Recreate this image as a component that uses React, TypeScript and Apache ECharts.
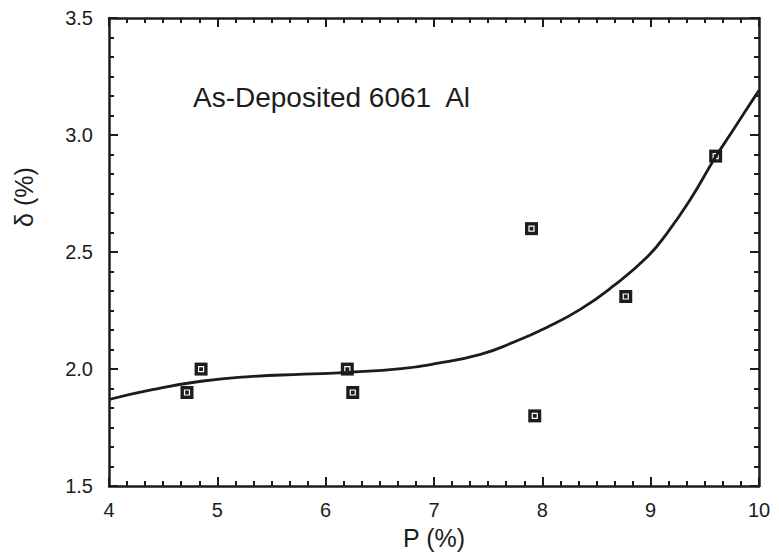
import React, { useEffect, useRef } from "react";
import * as echarts from "echarts";

const pointsX = [4.72, 4.85, 6.2, 6.25, 7.9, 7.93, 8.77, 9.6];
const pointsY = [1.9, 2.0, 2.0, 1.9, 2.6, 1.8, 2.31, 2.91];

const curveX = [4.0, 4.4, 4.85, 5.3, 5.8, 6.2, 6.7, 7.0, 7.43, 7.73, 8.04, 8.35, 8.65, 8.97, 9.15, 9.36, 9.6, 9.76, 9.96, 10.0];
const curveY = [1.87, 1.912, 1.948, 1.968, 1.978, 1.986, 2.002, 2.022, 2.063, 2.114, 2.178, 2.255, 2.353, 2.48, 2.58, 2.72, 2.907, 3.02, 3.163, 3.19];

const xTicks = { min: 4, max: 10, interval: 1 };
const yTicks = { min: 1.5, max: 3.5, interval: 0.5 };

const annotation = "As-Deposited 6061  Al";
const xName = "P (%)";
const yName = "δ (%)";

const INK = "#1c1c1c";
const FONT = "'Liberation Sans', Arial, Helvetica, sans-serif";

function frame() {
  return {
    axisLine: { show: true, onZero: false, lineStyle: { color: INK, width: 2.5 } },
    axisTick: { show: true, inside: true, length: 9, lineStyle: { color: INK, width: 2 } },
    minorTick: { show: true, splitNumber: 6, length: 5, lineStyle: { color: INK, width: 2 } },
    splitLine: { show: false },
    minorSplitLine: { show: false },
  };
}

export default function App() {
  const ref = useRef<HTMLDivElement>(null);

  useEffect(() => {
    if (!ref.current) return;
    const chart = echarts.init(ref.current, null, { renderer: "svg" });

    const pts = pointsX.map((x, i) => [x, pointsY[i]]);
    const curve = curveX.map((x, i) => [x, curveY[i]]);

    chart.setOption({
      animation: false,
      grid: { left: 109, right: 20, top: 18, bottom: 68 },
      xAxis: [
        {
          type: "value",
          position: "bottom",
          ...xTicks,
          ...frame(),
          axisLabel: { color: INK, fontSize: 20, margin: 14, fontFamily: FONT },
          name: xName,
          nameLocation: "middle",
          nameGap: 31,
          nameTextStyle: { color: INK, fontSize: 25, fontFamily: FONT },
        },
        {
          type: "value",
          position: "top",
          ...xTicks,
          ...frame(),
          axisLabel: { show: false },
        },
      ],
      yAxis: [
        {
          type: "value",
          position: "left",
          ...yTicks,
          ...frame(),
          axisLabel: {
            color: INK,
            fontSize: 20,
            margin: 16,
            fontFamily: FONT,
            formatter: (v: number) => v.toFixed(1),
          },
        },
        {
          type: "value",
          position: "right",
          ...yTicks,
          ...frame(),
          axisLabel: { show: false },
        },
      ],
      graphic: [
        {
          type: "text",
          left: 193,
          top: 83,
          z: 10,
          style: {
            text: annotation,
            fontSize: 28,
            fontFamily: FONT,
            fill: INK,
          },
        },
        {
          type: "text",
          x: 24,
          y: 197,
          z: 10,
          rotation: Math.PI / 2,
          style: {
            text: yName,
            fontSize: 25,
            fontFamily: FONT,
            fill: INK,
            align: "center",
            verticalAlign: "middle",
          },
        },
      ],
      series: [
        {
          type: "line",
          data: curve,
          smooth: true,
          showSymbol: false,
          symbol: "none",
          lineStyle: { color: INK, width: 2.8 },
        },
        {
          type: "scatter",
          data: pts,
          symbol: "rect",
          symbolSize: 13,
          itemStyle: { color: INK, opacity: 1 },
        },
        {
          type: "scatter",
          data: pts,
          symbol: "rect",
          symbolSize: 5,
          itemStyle: { color: INK, borderColor: "#ffffff", borderWidth: 1.2, opacity: 1 },
        },
      ],
    });

    return () => chart.dispose();
  }, []);

  return (
    <div
      ref={ref}
      style={{ position: "absolute", left: 0, top: 0, width: 779, height: 555 }}
    />
  );
}
